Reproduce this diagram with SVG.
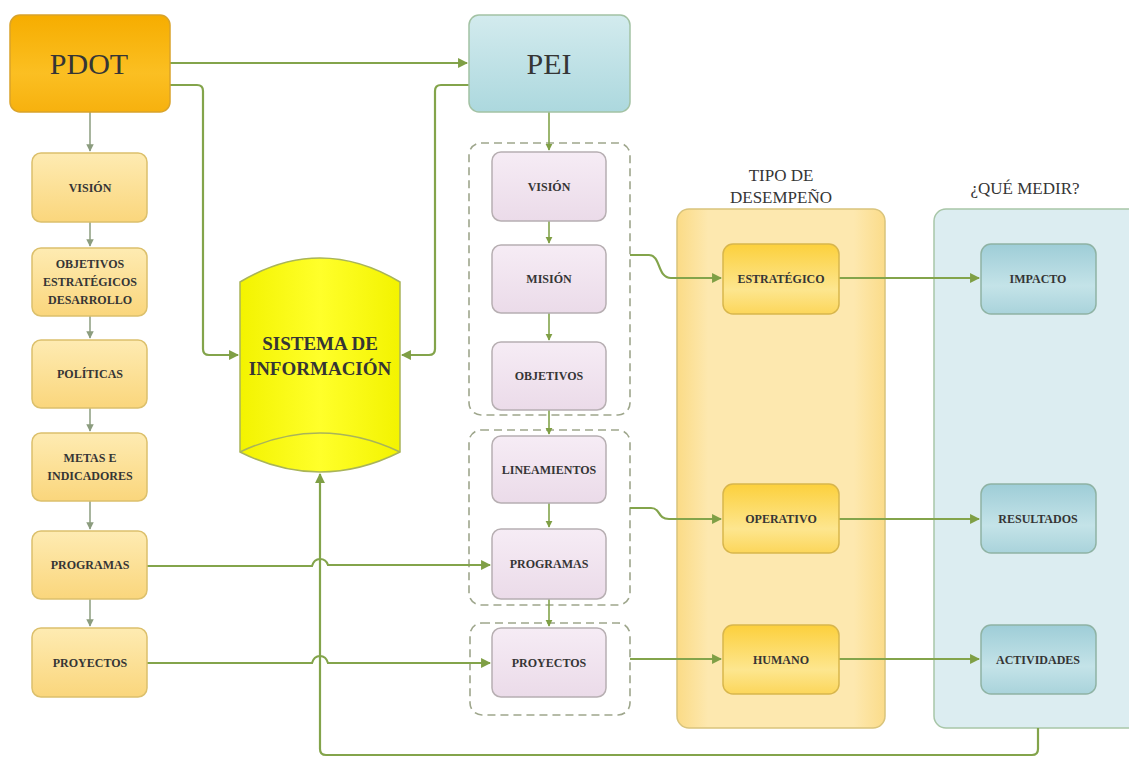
<svg xmlns="http://www.w3.org/2000/svg" width="1129" height="758" viewBox="0 0 1129 758">
<defs>
<linearGradient id="gPdot" x1="0" y1="0" x2="0" y2="1"><stop offset="0" stop-color="#f6ad00"/><stop offset="0.6" stop-color="#fbbf22"/><stop offset="1" stop-color="#f7b10e"/></linearGradient>
<linearGradient id="gPei" x1="0" y1="0" x2="0" y2="1"><stop offset="0" stop-color="#d3ebee"/><stop offset="1" stop-color="#acd8de"/></linearGradient>
<linearGradient id="gLeft" x1="0" y1="0" x2="0" y2="1"><stop offset="0" stop-color="#feebb2"/><stop offset="1" stop-color="#fad67c"/></linearGradient>
<linearGradient id="gPurple" x1="0" y1="0" x2="0" y2="1"><stop offset="0" stop-color="#f6ecf5"/><stop offset="1" stop-color="#ebdbe9"/></linearGradient>
<linearGradient id="gType" x1="0" y1="0" x2="0" y2="1"><stop offset="0" stop-color="#fcd03c"/><stop offset="0.65" stop-color="#fde68f"/><stop offset="1" stop-color="#fcd65a"/></linearGradient>
<linearGradient id="gMeas" x1="0" y1="0" x2="0" y2="1"><stop offset="0" stop-color="#9ecdd7"/><stop offset="0.6" stop-color="#c4e3e8"/><stop offset="1" stop-color="#a9d3db"/></linearGradient>
<linearGradient id="gPanelY" x1="0" y1="0" x2="1" y2="0"><stop offset="0" stop-color="#fbdb86"/><stop offset="0.15" stop-color="#fde8af"/><stop offset="0.85" stop-color="#fde8af"/><stop offset="1" stop-color="#fbdc8a"/></linearGradient>
<linearGradient id="gCyl" x1="0" y1="0" x2="1" y2="0"><stop offset="0" stop-color="#f3f300"/><stop offset="0.5" stop-color="#ffff2a"/><stop offset="1" stop-color="#f3f300"/></linearGradient>
<marker id="arr" viewBox="0 0 10 10" refX="9" refY="5" markerWidth="4.5" markerHeight="4.5" orient="auto-start-reverse"><path d="M0,0 L10,5 L0,10 z" fill="#7f9f45"/></marker>
<marker id="arrS" viewBox="0 0 10 10" refX="9" refY="5" markerWidth="5" markerHeight="5" orient="auto-start-reverse"><path d="M0,0 L10,5 L0,10 z" fill="#8b9c7e"/></marker>
<style>
text{font-family:"Liberation Serif","DejaVu Serif",serif;fill:#353535;text-anchor:middle}
.sm{font-size:12px;font-weight:bold}
.big{font-size:30px}
.ttl{font-size:17px}
.left{fill:url(#gLeft);stroke:#dcc06c;stroke-width:1.5}
.pur{fill:url(#gPurple);stroke:#b7afb2;stroke-width:1.5}
.typ{fill:url(#gType);stroke:#d8b64c;stroke-width:1.5}
.mea{fill:url(#gMeas);stroke:#8fb3a4;stroke-width:1.5}
.dash{fill:none;stroke:#9ea68c;stroke-width:1.6;stroke-dasharray:8 5}
.c{fill:none;stroke:#83a44b;stroke-width:2.2}
.cs{fill:none;stroke:#8b9c7e;stroke-width:1.5}
</style>
</defs>

<g id="panel-tipo">
<rect x="677" y="209" width="208" height="519" rx="12" fill="url(#gPanelY)" stroke="#d9c47c" stroke-width="1.5"/>
<text class="ttl" x="781" y="181">TIPO DE</text>
<text class="ttl" x="781" y="203">DESEMPEÑO</text>
</g>
<g id="panel-medir">
<rect x="934" y="209" width="210" height="519" rx="12" fill="#dcedf1" stroke="#a8c6a8" stroke-width="1.5"/>
<text class="ttl" x="1025" y="194">¿QUÉ MEDIR?</text>
</g>

<g id="groups">
<rect class="dash" x="469" y="143" width="161" height="272" rx="12"/>
<rect class="dash" x="469" y="430" width="161" height="175" rx="12"/>
<rect class="dash" x="470" y="623" width="160" height="92" rx="12"/>
</g>

<g id="connectors">
<path class="c" d="M170,63 H467" marker-end="url(#arr)"/>
<path class="c" d="M170,85 H197 Q203,85 203,91 V349 Q203,355 209,355 H238" marker-end="url(#arr)"/>
<path class="c" d="M469,85 H441 Q435,85 435,91 V349 Q435,355 429,355 H402" marker-end="url(#arr)"/>
<path class="c" d="M1038,728 V749 Q1038,755 1032,755 H326 Q320,755 320,749 V474" marker-end="url(#arr)"/>
<path class="c" d="M147,566 H312 Q314,559 320,559 Q326,559 328,565 H490" marker-end="url(#arr)"/>
<path class="c" d="M147,663 H312 Q314,656 320,656 Q326,656 328,663 H490" marker-end="url(#arr)"/>
<path class="cs" d="M90,112 V151" marker-end="url(#arrS)"/>
<path class="cs" d="M90,222 V246" marker-end="url(#arrS)"/>
<path class="cs" d="M90,316 V338" marker-end="url(#arrS)"/>
<path class="cs" d="M90,408 V431" marker-end="url(#arrS)"/>
<path class="cs" d="M90,501 V529" marker-end="url(#arrS)"/>
<path class="cs" d="M90,599 V626" marker-end="url(#arrS)"/>
<path class="c" style="stroke-width:1.6" d="M549,112 V150" marker-end="url(#arr)"/>
<path class="c" style="stroke-width:1.6" d="M549,221 V243" marker-end="url(#arr)"/>
<path class="c" style="stroke-width:1.6" d="M549,313 V340" marker-end="url(#arr)"/>
<path class="c" style="stroke-width:1.6" d="M549,410 V434" marker-end="url(#arr)"/>
<path class="c" style="stroke-width:1.6" d="M549,503 V527" marker-end="url(#arr)"/>
<path class="c" style="stroke-width:1.6" d="M549,599 V626" marker-end="url(#arr)"/>
<path class="c" d="M630,255 H649 C661,255 657,278 671,278 H721" marker-end="url(#arr)"/>
<path class="c" d="M630,508 H651 C661,508 657,519 669,519 H721" marker-end="url(#arr)"/>
<path class="c" d="M630,659 H721" marker-end="url(#arr)"/>
<path class="c" d="M839,278 H979" marker-end="url(#arr)"/>
<path class="c" d="M839,519 H979" marker-end="url(#arr)"/>
<path class="c" d="M839,659 H979" marker-end="url(#arr)"/>
</g>

<g id="pdot">
<rect x="10" y="15" width="160" height="97" rx="10" fill="url(#gPdot)" stroke="#d9a32a" stroke-width="1.5"/>
<text class="big" x="89" y="74">PDOT</text>
</g>
<g id="pei">
<rect x="469" y="15" width="161" height="97" rx="10" fill="url(#gPei)" stroke="#a3c2a4" stroke-width="1.5"/>
<text class="big" x="549" y="74">PEI</text>
</g>

<g id="sistema">
<path d="M240,282 Q320,234 400,282 V452 Q320,492 240,452 Z" fill="url(#gCyl)" stroke="#a9b45a" stroke-width="1.5"/>
<path d="M240,452 Q320,414 400,452" fill="none" stroke="#a9b45a" stroke-width="1.5"/>
<text x="320" y="350" style="font-size:19px;font-weight:bold">SISTEMA DE</text>
<text x="320" y="375" style="font-size:19px;font-weight:bold">INFORMACIÓN</text>
</g>

<g id="l-vision"><rect class="left" x="32" y="153" width="115" height="69" rx="9"/><text class="sm" x="90" y="192">VISIÓN</text></g>
<g id="l-objetivos"><rect class="left" x="32" y="248" width="115" height="68" rx="9"/>
<text class="sm" x="90" y="268">OBJETIVOS</text><text class="sm" x="90" y="286">ESTRATÉGICOS</text><text class="sm" x="90" y="304">DESARROLLO</text></g>
<g id="l-politicas"><rect class="left" x="32" y="340" width="115" height="68" rx="9"/><text class="sm" x="90" y="378">POLÍTICAS</text></g>
<g id="l-metas"><rect class="left" x="32" y="433" width="115" height="68" rx="9"/>
<text class="sm" x="90" y="462">METAS E</text><text class="sm" x="90" y="480">INDICADORES</text></g>
<g id="l-programas"><rect class="left" x="32" y="531" width="115" height="68" rx="9"/><text class="sm" x="90" y="569">PROGRAMAS</text></g>
<g id="l-proyectos"><rect class="left" x="32" y="628" width="115" height="69" rx="9"/><text class="sm" x="90" y="667">PROYECTOS</text></g>

<g id="p-vision"><rect class="pur" x="492" y="152" width="114" height="69" rx="9"/><text class="sm" x="549" y="191">VISIÓN</text></g>
<g id="p-mision"><rect class="pur" x="492" y="245" width="114" height="68" rx="9"/><text class="sm" x="549" y="283">MISIÓN</text></g>
<g id="p-objetivos"><rect class="pur" x="492" y="342" width="114" height="68" rx="9"/><text class="sm" x="549" y="380">OBJETIVOS</text></g>
<g id="p-lineamientos"><rect class="pur" x="492" y="436" width="114" height="67" rx="9"/><text class="sm" x="549" y="474">LINEAMIENTOS</text></g>
<g id="p-programas"><rect class="pur" x="492" y="529" width="114" height="70" rx="9"/><text class="sm" x="549" y="568">PROGRAMAS</text></g>
<g id="p-proyectos"><rect class="pur" x="492" y="628" width="114" height="69" rx="9"/><text class="sm" x="549" y="667">PROYECTOS</text></g>

<g id="t-estrategico"><rect class="typ" x="723" y="244" width="116" height="70" rx="10"/><text class="sm" x="781" y="283">ESTRATÉGICO</text></g>
<g id="t-operativo"><rect class="typ" x="723" y="484" width="116" height="69" rx="10"/><text class="sm" x="781" y="523">OPERATIVO</text></g>
<g id="t-humano"><rect class="typ" x="723" y="625" width="116" height="69" rx="10"/><text class="sm" x="781" y="664">HUMANO</text></g>

<g id="m-impacto"><rect class="mea" x="981" y="244" width="115" height="70" rx="10"/><text class="sm" x="1038" y="283">IMPACTO</text></g>
<g id="m-resultados"><rect class="mea" x="981" y="484" width="115" height="69" rx="10"/><text class="sm" x="1038" y="523">RESULTADOS</text></g>
<g id="m-actividades"><rect class="mea" x="981" y="625" width="115" height="69" rx="10"/><text class="sm" x="1038" y="664">ACTIVIDADES</text></g>
</svg>
